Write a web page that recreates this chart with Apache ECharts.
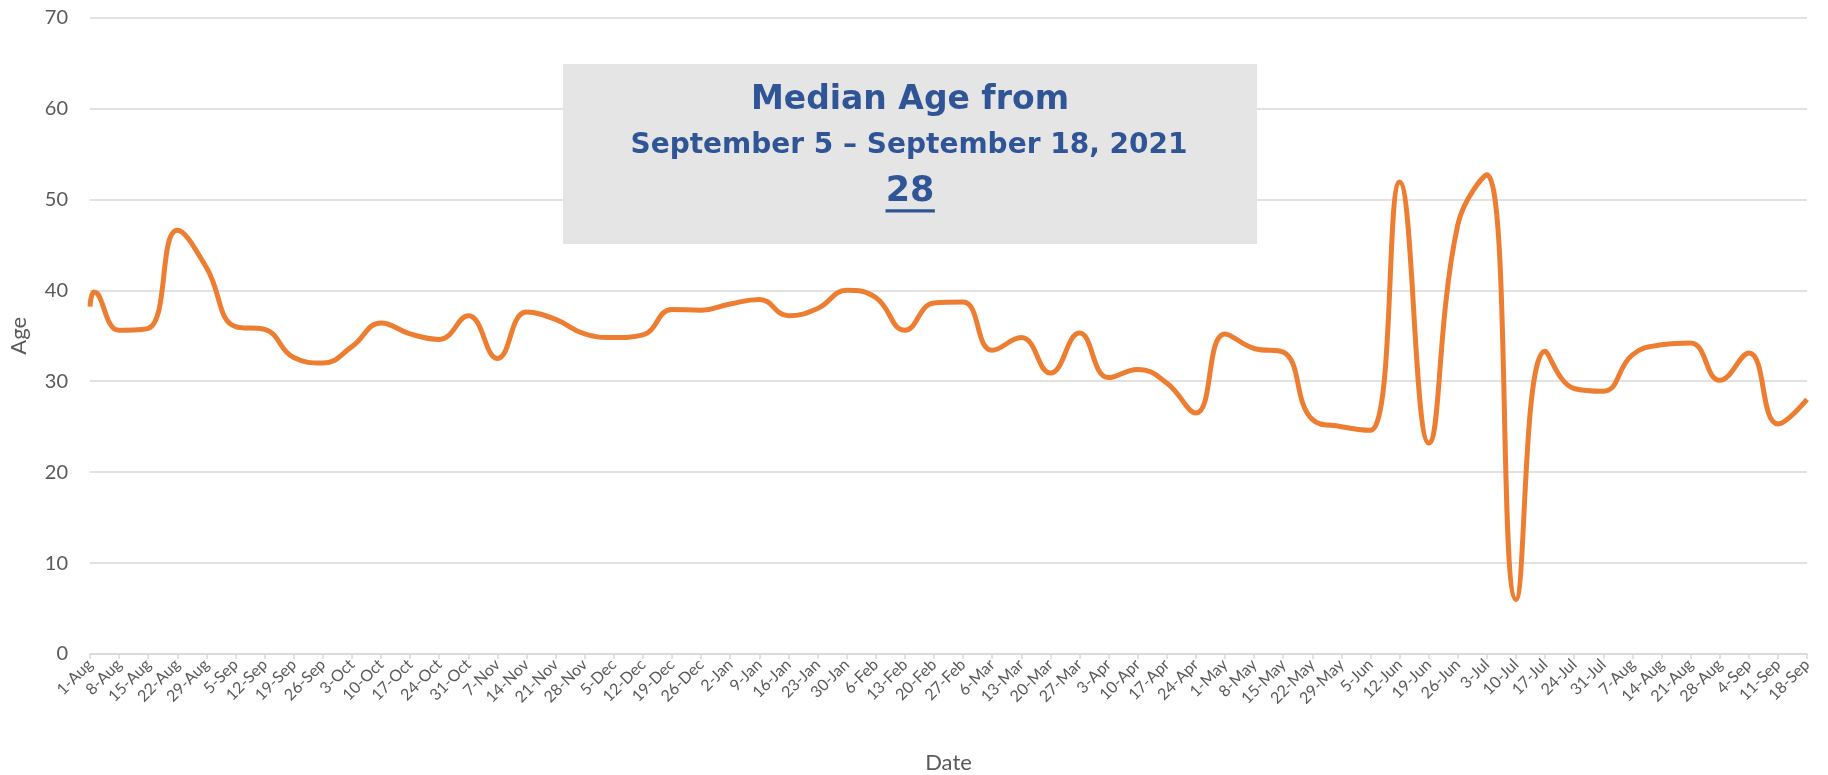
<!DOCTYPE html>
<html>
<head>
<meta charset="utf-8">
<script src="https://cdn.jsdelivr.net/npm/echarts@6/dist/echarts.min.js"></script>
<style>
  html, body { margin: 0; padding: 0; background: #ffffff; }
  #chart { width: 1828px; height: 775px; }
</style>
</head>
<body>
<div id="chart"></div>
<script>
// Week tick labels (one every 7 days, starting 1-Aug-2020)
const tickLabels = ['1-Aug','8-Aug','15-Aug','22-Aug','29-Aug','5-Sep','12-Sep','19-Sep','26-Sep','3-Oct',
  '10-Oct','17-Oct','24-Oct','31-Oct','7-Nov','14-Nov','21-Nov','28-Nov','5-Dec','12-Dec',
  '19-Dec','26-Dec','2-Jan','9-Jan','16-Jan','23-Jan','30-Jan','6-Feb','13-Feb','20-Feb',
  '27-Feb','6-Mar','13-Mar','20-Mar','27-Mar','3-Apr','10-Apr','17-Apr','24-Apr','1-May',
  '8-May','15-May','22-May','29-May','5-Jun','12-Jun','19-Jun','26-Jun','3-Jul','10-Jul',
  '17-Jul','24-Jul','31-Jul','7-Aug','14-Aug','21-Aug','28-Aug','4-Sep','11-Sep','18-Sep'];

// Day offset of each observation from 1-Aug
const pointDays = [0, 1, 7, 14, 21, 28, 35, 42, 49, 56, 63,
  70, 77, 84, 91, 98, 105, 112, 119, 126, 133,
  140, 147, 154, 161, 168, 175, 182, 189, 196, 203,
  210, 217, 224, 231, 238, 245, 252, 259, 266, 273,
  280, 287, 294, 301, 308, 315, 322, 329, 336, 343,
  350, 357, 364, 371, 378, 385, 392, 399, 406, 413];

// Median age for each observation
const medianAges = [38.2, 39.8, 35.6, 35.8, 46.6, 42.5, 36.0, 35.7, 32.6, 32.0, 33.8,
  36.4, 35.2, 34.6, 37.2, 32.5, 37.6, 36.8, 35.2, 34.8, 35.1,
  37.9, 37.8, 38.5, 39.0, 37.2, 38.0, 40.0, 39.2, 35.6, 38.6,
  38.7, 33.4, 34.8, 30.9, 35.3, 30.4, 31.3, 29.8, 26.5, 35.2,
  33.6, 33.2, 25.8, 25.0, 24.6, 51.9, 23.2, 47.2, 52.7, 6.0,
  33.3, 29.2, 28.9, 32.9, 34.0, 34.2, 30.1, 33.1, 25.3, 28.0];

const boxLine1 = 'Median Age from';
const boxLine2 = 'September 5 \u2013 September 18, 2021';
const boxValue = '28';

const seriesData = pointDays.map((d, i) => [d, medianAges[i]]);
const lastDay = (tickLabels.length - 1) * 7;

const chart = echarts.init(document.getElementById('chart'));
const labelColor = '#595959';
const gridColor = '#d9d9d9';
const navy = '#2F5597';

chart.setOption({
  animation: false,
  backgroundColor: '#ffffff',
  grid: { left: 90, right: 21, top: 17.5, bottom: 121, containLabel: false, outerBoundsMode: 'none' },
  xAxis: {
    type: 'value',
    min: 0,
    max: lastDay,
    interval: 7,
    name: 'Date',
    nameLocation: 'middle',
    nameGap: 98,
    nameTextStyle: { color: labelColor, fontFamily: 'Lato', fontSize: 22 },
    axisLine: { show: true, lineStyle: { color: gridColor, width: 1.5 } },
    axisTick: { show: true, length: 5, lineStyle: { color: gridColor, width: 1.5 } },
    splitLine: { show: false },
    axisLabel: {
      rotate: 45,
      margin: 8,
      color: labelColor,
      fontFamily: 'Lato',
      fontSize: 16,
      showMinLabel: true,
      showMaxLabel: true,
      interval: 0,
      formatter: function (v) {
        const idx = Math.round(v / 7);
        if (Math.abs(v - idx * 7) > 0.01) return '';
        return tickLabels[idx] || '';
      }
    }
  },
  yAxis: {
    type: 'value',
    min: 0,
    max: 70,
    interval: 10,
    name: 'Age',
    nameLocation: 'middle',
    nameGap: 60,
    nameTextStyle: { color: labelColor, fontFamily: 'Lato', fontSize: 22 },
    axisLine: { show: false },
    axisTick: { show: false },
    axisLabel: { color: labelColor, fontFamily: 'Lato', fontSize: 20, margin: 22 },
    splitLine: { lineStyle: { color: gridColor, width: 1.5 } }
  },
  series: [{
    type: 'line',
    data: seriesData,
    smooth: 0.45,
    showSymbol: false,
    symbol: 'none',
    lineStyle: { color: '#ED7D31', width: 5 },
    z: 3
  }],
  graphic: [
    { type: 'rect', z: 100, shape: { x: 563, y: 64, width: 694, height: 180 }, style: { fill: '#e5e5e5' } },
    { type: 'text', z: 101, x: 910, y: 100, style: { text: boxLine1, font: 'bold 33px "DejaVu Sans"', fill: navy, align: 'center', verticalAlign: 'middle' } },
    { type: 'text', z: 101, x: 909, y: 146, style: { text: boxLine2, font: 'bold 28px "DejaVu Sans"', fill: navy, align: 'center', verticalAlign: 'middle' } },
    { type: 'text', z: 101, x: 910, y: 192, style: { text: boxValue, font: 'bold 35px "DejaVu Sans"', fill: navy, align: 'center', verticalAlign: 'middle' } },
    { type: 'rect', z: 101, shape: { x: 885.5, y: 209.3, width: 49.4, height: 3.3 }, style: { fill: navy } }
  ]
});
</script>
</body>
</html>
